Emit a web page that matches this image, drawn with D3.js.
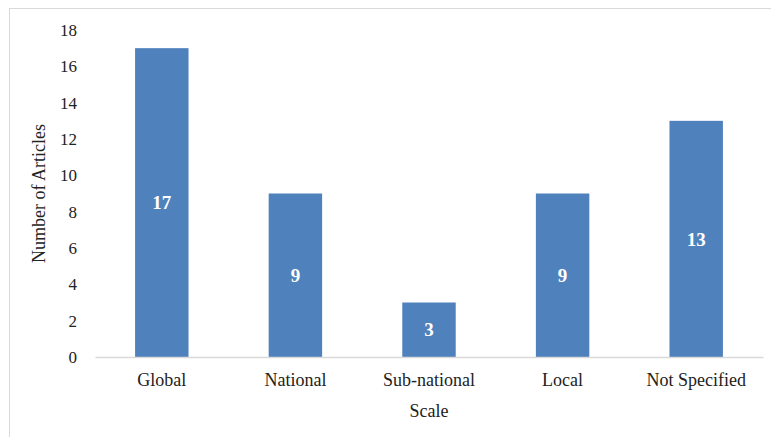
<!DOCTYPE html>
<html>
<head>
<meta charset="utf-8">
<script src="https://cdn.jsdelivr.net/npm/d3@7"></script>
<style>
  body { margin: 0; background: #fff; }
  svg text { font-family: "Liberation Serif", "Times New Roman", serif; }
</style>
</head>
<body>
<div id="chart"></div>
<script>
var categories = ["Global", "National", "Sub-national", "Local", "Not Specified"];
var articles = [17, 9, 3, 9, 13];
var yTicks = [0, 2, 4, 6, 8, 10, 12, 14, 16, 18];

var width = 771;
var height = 437;
var margin = {top: 30, bottom: 80, left: 95, right: 8};

var svg = d3.select("#chart")
    .append("svg")
        .attr("width", width)
        .attr("height", height);

// outer chart frame
svg.append("rect")
    .attr("x", 9.5)
    .attr("y", 8.5)
    .attr("width", width)
    .attr("height", height)
    .attr("fill", "none")
    .attr("stroke", "#d9d9d9");

var g = svg.append("g")
    .attr("transform", "translate(" + margin.left + "," + margin.top + ")");

var w = width - margin.left - margin.right;
var h = 357 - margin.top;

var xscale = d3.scaleBand()
    .domain(categories)
    .range([0, w])
    .paddingInner(0.6)
    .paddingOuter(0.3);

var yscale = d3.scaleLinear()
    .domain([0, 18])
    .range([h, 0]);

// y axis labels only
var y_axis = d3.axisLeft(yscale).tickValues(yTicks).tickSize(0).tickPadding(18);
var yg = g.append("g").call(y_axis);
yg.select(".domain").remove();
yg.selectAll("text")
    .attr("font-size", 17)
    .attr("fill", "#222");

// bars
g.selectAll(".bar")
    .data(articles)
    .enter().append("rect")
    .attr("class", "bar")
    .attr("x", function(d, i){ return xscale(categories[i]); })
    .attr("y", function(d){ return yscale(d); })
    .attr("width", xscale.bandwidth())
    .attr("height", function(d){ return h - yscale(d); })
    .attr("fill", "#4f81bd");

// value labels
g.selectAll(".val")
    .data(articles)
    .enter().append("text")
    .attr("class", "val")
    .attr("x", function(d, i){ return xscale(categories[i]) + xscale.bandwidth() / 2; })
    .attr("y", function(d){ return (yscale(d) + h) / 2; })
    .attr("dy", "0.35em")
    .attr("text-anchor", "middle")
    .attr("font-size", 19)
    .attr("font-weight", "bold")
    .attr("fill", "#fff")
    .text(function(d){ return d; });

// x axis
var x_axis = d3.axisBottom(xscale).tickSize(0).tickPadding(16);
var xg = g.append("g")
    .attr("transform", "translate(0," + h + ")")
    .call(x_axis);
xg.select(".domain").attr("stroke", "#d9d9d9").attr("stroke-width", 1.5);
xg.selectAll("text")
    .attr("font-size", 18)
    .attr("fill", "#222");

// axis titles
svg.append("text")
    .attr("x", margin.left + w / 2)
    .attr("y", 417)
    .attr("text-anchor", "middle")
    .attr("font-size", 18)
    .attr("fill", "#222")
    .text("Scale");

svg.append("text")
    .attr("transform", "translate(45," + (margin.top + h / 2) + ") rotate(-90)")
    .attr("text-anchor", "middle")
    .attr("font-size", 18)
    .attr("fill", "#222")
    .text("Number of Articles");
</script>
</body>
</html>
